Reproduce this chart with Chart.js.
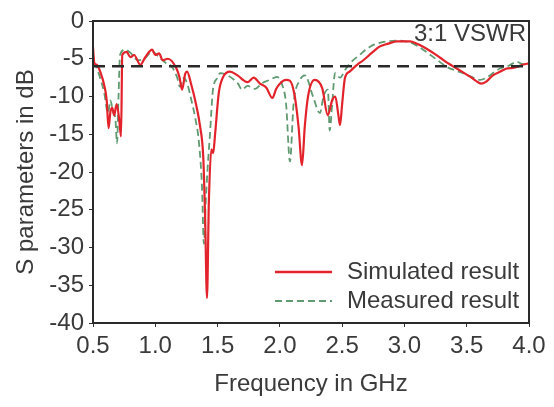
<!DOCTYPE html>
<html><head><meta charset="utf-8">
<script src="https://cdn.jsdelivr.net/npm/chart.js@4.4.0/dist/chart.umd.min.js"></script>
<style>html,body{margin:0;padding:0;background:#fff;}#wrap{width:554px;height:407px;}</style>
</head><body><div id="wrap"><canvas id="c" width="554" height="407"></canvas></div>
<script>
// Simulated result
const simFreq = [
  0.50,0.51,0.53,0.56,0.59,0.61,0.625,0.64,0.655,0.67,
  0.69,0.71,0.725,0.735,0.77,0.80,0.83,0.88,0.92,0.975,
  1.00,1.03,1.06,1.10,1.17,1.195,1.215,1.24,1.255,1.29,
  1.32,1.36,1.385,1.40,1.415,1.43,1.45,1.465,1.48,1.51,
  1.545,1.60,1.66,1.74,1.79,1.84,1.89,1.94,1.97,2.00,
  2.05,2.08,2.12,2.15,2.178,2.20,2.226,2.28,2.34,2.385,
  2.42,2.445,2.47,2.483,2.50,2.523,2.56,2.62,2.67,2.74,
  2.80,2.87,2.94,3.045,3.10,3.15,3.22,3.29,3.36,3.42,
  3.48,3.53,3.58,3.62,3.66,3.71,3.77,3.82,3.87,3.90,
  3.95,4.00];
const simDb = [
  -3.5,-5.5,-5.8,-6.8,-8.5,-10.5,-14.2,-12.0,-11.5,-12.5,
  -11.0,-13.0,-15.3,-4.5,-4.1,-4.8,-4.5,-5.8,-4.8,-3.8,
  -4.5,-4.3,-5.2,-5.0,-6.3,-7.5,-9.1,-7.0,-6.7,-8.5,
  -10.5,-14,-18,-26,-36.7,-24,-17,-17.5,-15,-9.5,
  -7.4,-6.7,-7.2,-8.1,-7.5,-8.3,-8.8,-10.2,-9.0,-8.3,
  -7.8,-7.9,-10,-14,-19.1,-14,-10,-7.8,-8.9,-12.5,
  -10.5,-10,-12.5,-13.8,-11,-7.5,-6.7,-5.8,-5.2,-4.2,
  -3.4,-3.0,-2.7,-2.7,-3.0,-3.4,-4.1,-4.9,-5.7,-6.3,
  -6.9,-7.4,-8.0,-8.3,-8.0,-7.2,-6.7,-6.3,-6.2,-6.1,
  -5.8,-5.6];
// Measured result
const measFreq = [
  0.50,0.53,0.556,0.59,0.62,0.64,0.66,0.68,0.693,0.705,
  0.717,0.757,0.80,0.86,0.92,0.975,1.03,1.08,1.13,1.174,
  1.198,1.23,1.26,1.29,1.319,1.35,1.375,1.39,1.405,1.42,
  1.439,1.463,1.50,1.519,1.58,1.664,1.696,1.74,1.80,1.86,
  1.92,1.977,2.02,2.05,2.081,2.11,2.162,2.202,2.266,2.322,
  2.35,2.386,2.40,2.42,2.443,2.483,2.523,2.563,2.64,2.724,
  2.80,2.86,2.95,3.069,3.15,3.25,3.342,3.40,3.47,3.54,
  3.607,3.66,3.72,3.767,3.84,3.904,3.95,4.00];
const measDb = [
  -5.5,-6.2,-7.5,-9.5,-12.2,-10.5,-12,-13,-16.2,-10,
  -4.5,-3.8,-4.2,-5.2,-4.9,-4.0,-4.8,-5.5,-6.0,-7.4,
  -8.7,-7.5,-8.5,-10.5,-12.7,-16,-22,-29.5,-24,-19.5,
  -15,-9.1,-7.5,-6.9,-7.2,-8.3,-9.1,-8.6,-9.0,-8.2,
  -7.8,-7.4,-8.5,-11,-18.6,-11,-7.8,-7.2,-10,-12.2,
  -10,-9.1,-14.5,-11,-6.9,-7.5,-6.5,-5.6,-4.5,-3.4,
  -2.9,-2.7,-2.6,-3.0,-3.8,-5.0,-6.1,-6.5,-6.9,-7.4,
  -7.8,-7.5,-6.8,-6.3,-5.9,-5.4,-5.7,-5.6];
// 3:1 VSWR reference level
const vswrFreq = [0.5, 4.0];
const vswrDb = [-6, -6];
const seriesNames = ['Simulated result', 'Measured result'];
const vswrLabel = '3:1 VSWR';
const xTitle = 'Frequency in GHz';
const yTitle = 'S parameters in dB';

const FONT = 'Liberation Sans, Arial, Helvetica, sans-serif';
const TXT = '#3a3a3a';
const RED = '#e3232b';
const GRN = '#5f9a70';

const toXY = (xs, ys) => xs.map((x, i) => ({x: x, y: ys[i]}));

const overlay = {
  id: 'overlay',
  afterDatasetsDraw(chart) {
    const {ctx, chartArea: a} = chart;
    ctx.save();
    ctx.strokeStyle = '#2a2a2a';
    ctx.lineWidth = 2;
    ctx.strokeRect(a.left, a.top, a.right - a.left, a.bottom - a.top);
    ctx.fillStyle = TXT;
    ctx.font = '24px ' + FONT;
    ctx.textAlign = 'right';
    ctx.textBaseline = 'middle';
    ctx.fillText(vswrLabel, a.right - 3, a.top + 13);
    const ds = chart.data.datasets;
    const rows = [a.bottom - 51, a.bottom - 22];
    for (let i = 0; i < 2; i++) {
      const d = ds[i];
      ctx.beginPath();
      ctx.strokeStyle = d.borderColor;
      ctx.lineWidth = i === 0 ? 2.5 : 2;
      ctx.setLineDash(d.borderDash || []);
      ctx.moveTo(a.right - 254, rows[i]);
      ctx.lineTo(a.right - 197, rows[i]);
      ctx.stroke();
      ctx.setLineDash([]);
      ctx.textAlign = 'left';
      ctx.fillStyle = TXT;
      ctx.fillText(d.label, a.right - 182, rows[i]);
    }
    ctx.restore();
  }
};

new Chart(document.getElementById('c'), {
  type: 'line',
  data: {
    datasets: [
      {label: seriesNames[0], data: toXY(simFreq, simDb), borderColor: RED, borderWidth: 2.2,
       pointRadius: 0, cubicInterpolationMode: 'monotone', order: 1},
      {label: seriesNames[1], data: toXY(measFreq, measDb), borderColor: GRN, borderWidth: 1.8,
       borderDash: [7, 4], pointRadius: 0, cubicInterpolationMode: 'monotone', order: 2},
      {label: vswrLabel, data: toXY(vswrFreq, vswrDb), borderColor: '#2a2a2a', borderWidth: 2.5,
       borderDash: [12, 7], pointRadius: 0, order: 0}
    ]
  },
  options: {
    responsive: false,
    animation: false,
    devicePixelRatio: 1,
    layout: {padding: {top: 21, right: 25, bottom: 0, left: 0}},
    plugins: {legend: {display: false}, tooltip: {enabled: false}},
    scales: {
      x: {
        type: 'linear', min: 0.5, max: 4.0,
        border: {display: false},
        grid: {display: true, drawOnChartArea: false, drawTicks: true, tickLength: 4, color: '#333'},
        ticks: {stepSize: 0.5, padding: 5, color: TXT, font: {family: FONT, size: 24},
                maxRotation: 0, autoSkip: false, callback: v => v.toFixed(1)},
        title: {display: true, text: xTitle, color: TXT, font: {family: FONT, size: 24},
                padding: {top: 0, bottom: 8}},
        afterFit: s => { s.height = 84; }
      },
      y: {
        min: -40, max: 0,
        border: {display: false},
        grid: {display: true, drawOnChartArea: false, drawTicks: true, tickLength: 4, color: '#333'},
        ticks: {stepSize: 5, padding: 5, color: TXT, font: {family: FONT, size: 24}},
        title: {display: true, text: yTitle, color: TXT, font: {family: FONT, size: 24},
                padding: {top: 12, bottom: 0}},
        afterFit: s => { s.width = 93; }
      }
    }
  },
  plugins: [overlay]
});
</script></body></html>
